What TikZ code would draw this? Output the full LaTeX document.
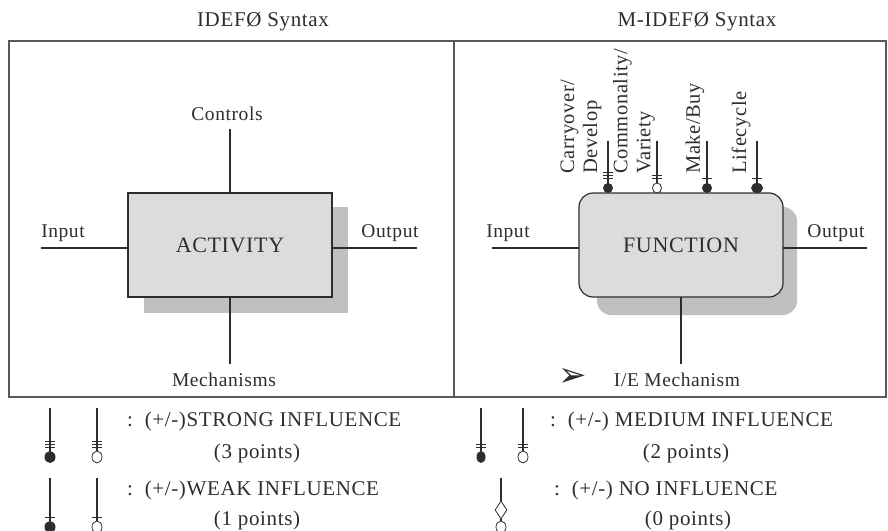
\documentclass[tikz,border=0pt]{standalone}
\usepackage{fontspec}
\setmainfont[LetterSpace=3]{Liberation Serif}
\newfontfamily\dejavu{DejaVu Sans}
\usetikzlibrary{shapes.geometric}
\definecolor{ink}{RGB}{45,45,45}
\definecolor{boxfill}{RGB}{220,220,220}
\definecolor{shadowfill}{RGB}{192,192,192}
\tikzset{
  lbl/.style={font=\fontsize{19.5}{23}\selectfont, inner sep=0pt, text=ink},
  rlbl/.style={font=\fontsize{20.5}{23}\selectfont, inner sep=0pt, text=ink, rotate=90, anchor=west, align=left},
  leg/.style={font=\fontsize{21}{24}\selectfont, inner sep=0pt, text=ink},
  ttl/.style={font=\fontsize{21}{24}\selectfont, inner sep=0pt, text=ink},
  actbox/.style={draw=ink, fill=boxfill, line width=1.2pt, minimum width=204pt, minimum height=104pt,
    inner sep=0pt, outer sep=0pt, font=\fontsize{22}{24}\selectfont, text=ink},
  shbox/.style={fill=shadowfill, minimum width=204pt, minimum height=106pt, inner sep=0pt, outer sep=0pt},
  conn/.style={draw=ink, line width=1.1pt},
  bar/.style={draw=ink, line width=0.8pt},
  frame/.style={draw=black!65, line width=1.2pt}
}
% filled influence symbol: x, ytop, ycircle, nbars, xradius, yradius
\newcommand\infF[6]{%
  \draw[conn] (#1,#2) -- (#1,#3);
  \foreach \k in {1,...,#4}{\draw[bar] (#1-5,#3-7-3*\k) -- (#1+5,#3-7-3*\k);}
  \fill[ink] (#1,#3) ellipse [x radius=#5, y radius=#6];
}
% open influence symbol
\newcommand\infO[6]{%
  \draw[conn] (#1,#2) -- (#1,#3-#6);
  \foreach \k in {1,...,#4}{\draw[bar] (#1-5,#3-7-3*\k) -- (#1+5,#3-7-3*\k);}
  \draw[ink, line width=0.8pt, fill=white] (#1,#3) ellipse [x radius=#5, y radius=#6];
}
\begin{document}
\begin{tikzpicture}[x=1pt, y=-1pt]
\useasboundingbox (0,0) rectangle (888,530);

% titles
\node[ttl] (t1) at (263,22) {IDEFØ Syntax};
\node[ttl] (t2) at (697,22) {M-IDEFØ Syntax};

% frame
\draw[frame] (9,41) rectangle (886,397);
\coordinate (dtop) at (454,41);
\coordinate (dbot) at (454,397);
\draw[frame] (dtop) -- (dbot);

% ---------- left: IDEF0 ----------
\node[shbox] (actsh) at (246,260) {};
\node[actbox] (act) at (230,245) {ACTIVITY};
\node[lbl] (ctl) at (227,114) {Controls};
\node[lbl] (inl) at (63,233) {Input};
\node[lbl] (outl) at (390,233) {Output};
\node[lbl] (mech) at (224,380) {Mechanisms};
\coordinate (ctltop) at (230,129);
\coordinate (inend) at (41,248);
\coordinate (outend) at (417,248);
\coordinate (mechbot) at (230,364);
\draw[conn] (ctltop) -- (ctltop |- act.north);
\draw[conn] (inend) -- (inend -| act.west);
\draw[conn] (outend -| act.east) -- (outend);
\draw[conn] (mechbot |- act.south) -- (mechbot);

% ---------- right: M-IDEF0 ----------
\node[shbox, rounded corners=14pt, minimum width=200pt, minimum height=108pt] (funsh) at (697,261) {};
\node[actbox, rounded corners=14pt] (fun) at (681,245) {FUNCTION};
\node[lbl] (inr) at (508,233) {Input};
\node[lbl] (outr) at (836,233) {Output};
\node[lbl] (iem) at (677,380) {I/E Mechanism};
\node[inner sep=0pt, font=\dejavu\fontsize{34}{34}\selectfont, text=ink] (bul) at (573,377) {➢};
\coordinate (inend2) at (492,248);
\coordinate (outend2) at (867,248);
\coordinate (mechbot2) at (681,364);
\draw[conn] (inend2) -- (inend2 -| fun.west);
\draw[conn] (outend2 -| fun.east) -- (outend2);
\draw[conn] (mechbot2 |- fun.south) -- (mechbot2);

% rotated control labels
\node[rlbl] (cd) at (581,174) {Carryover/\\Develop};
\node[rlbl] (cv) at (634,174) {Commonality/\\Variety};
\node[rlbl] (mb) at (695,174) {Make/Buy};
\node[rlbl] (lc) at (741,174) {Lifecycle};

% influence markers on the function
\infF{608}{141}{188}{3}{5}{5}
\infO{657}{141}{188}{2}{4.5}{5}
\infF{707}{141}{188}{1}{5}{5}
\infF{757}{141}{188}{1}{6}{5}

% ---------- legend ----------
\infF{50}{408}{457}{3}{5.5}{6}
\infO{97}{408}{457}{3}{5}{6}
\node[leg, anchor=west] (lstrong) at (127,421) {:\ \ (+/-)STRONG INFLUENCE};
\node[leg] (pstrong) at (257,453) {(3 points)};

\infF{50}{478}{527}{1}{5.5}{6}
\infO{97}{478}{527}{1}{5}{6}
\node[leg, anchor=west] (lweak) at (127,490) {:\ \ (+/-)WEAK INFLUENCE};
\node[leg] (pweak) at (257,520) {(1 points)};

\infF{481}{408}{457}{2}{4.5}{6}
\infO{523}{408}{457}{2}{5}{6}
\node[leg, anchor=west] (lmed) at (550,421) {:\ \ (+/-) MEDIUM INFLUENCE};
\node[leg] (pmed) at (686,453) {(2 points)};

\node[diamond, draw=ink, line width=0.8pt, minimum width=12pt, minimum height=18pt, inner sep=0pt] (nd) at (501,510) {};
\coordinate (ndtop) at (501,478);
\draw[conn] (ndtop) -- (nd.north);
\draw[conn] (nd.south) -- (501,521);
\draw[ink, line width=0.8pt, fill=white] (501,527) ellipse [x radius=5, y radius=6];
\node[leg, anchor=west] (lno) at (554,490) {:\ \ (+/-) NO INFLUENCE};
\node[leg] (pno) at (688,520) {(0 points)};
\end{tikzpicture}
\end{document}
